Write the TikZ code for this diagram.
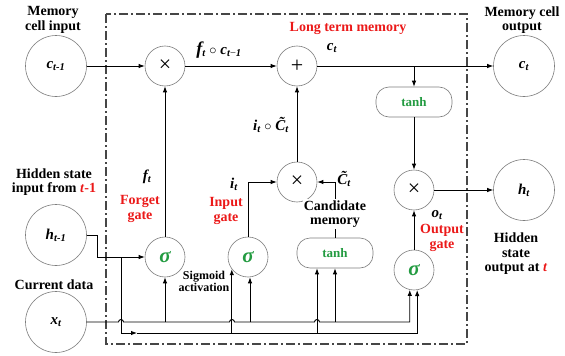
\documentclass[tikz,border=0pt]{standalone}
\usepackage{fontspec}
\setmainfont{Liberation Serif}
\usetikzlibrary{arrows.meta}
\definecolor{gred}{RGB}{235,25,25}
\definecolor{ggreen}{RGB}{35,155,65}
\definecolor{cgray}{RGB}{125,125,125}
\definecolor{bgray}{RGB}{70,70,70}
\begin{document}
\begin{tikzpicture}[x=1pt,y=-1pt,
 font=\bfseries\fontsize{14}{14.5}\selectfont,
 op/.style={circle,draw=cgray,line width=0.6pt,minimum size=40pt,inner sep=0pt,font=\mdseries\fontsize{22}{22}\selectfont},
 big/.style={circle,draw=cgray,line width=0.6pt,minimum size=61pt,inner sep=0pt,font=\bfseries\itshape\fontsize{15}{15}\selectfont},
 act/.style={draw=cgray,line width=0.6pt,rounded corners=13pt,minimum width=76pt,minimum height=30pt,inner sep=0pt,text=ggreen,font=\bfseries\fontsize{13}{13}\selectfont},
 sig/.style={circle,draw=cgray,line width=0.6pt,minimum size=40pt,inner sep=0pt,text=ggreen,font=\bfseries\itshape\fontsize{21}{21}\selectfont},
 conn/.style={line width=0.9pt,-{Latex[length=6pt,width=4.5pt]}},
 wire/.style={line width=0.9pt},
 lbl/.style={align=center,inner sep=0pt},
 gate/.style={lbl,text=gred},
 var/.style={inner sep=0pt,font=\bfseries\itshape\fontsize{15}{15}\selectfont}
]
\useasboundingbox (0,0) rectangle (565,356);
% frame
\draw[line width=1.2pt,draw=bgray,dash pattern=on 9pt off 3pt on 2pt off 3pt] (106,14) rectangle (467,344);

% nodes
\node[big] (cin) at (56,66) {c\textsubscript{t-1}};
\node[op] (mulF) at (165,66) {×};
\node[op] (add) at (297,66) {+};
\node[big] (cout) at (524,66) {c\textsubscript{t}};
\node[act] (tanhT) at (414,102) {tanh};
\node[op] (mulO) at (414,190) {×};
\node[big] (hout) at (524,190) {h\textsubscript{t}};
\node[op] (mulI) at (297,182) {×};
\node[big] (hin) at (56,235) {h\textsubscript{t-1}};
\node[big] (xin) at (56,322) {x\textsubscript{t}};
\node[sig] (sigF) at (165,257) {σ};
\node[sig] (sigI) at (248,257) {σ};
\node[act] (tanhC) at (335,253) {tanh};
\node[sig] (sigO) at (414,270) {σ};

\coordinate (hbus) at (0,333);
\coordinate (xbus) at (0,322);
\coordinate (hb) at (121,257);

% top row
\draw[conn] (cin) -- (mulF);
\draw[conn] (mulF) -- (add);
\draw[conn] (add) -- (cout);
\draw[conn] (tanhT.north |- add) -- (tanhT.north);
\draw[conn] (tanhT) -- (mulO);
\draw[conn] (mulO) -- (hout);
\draw[conn] (sigO) -- (mulO);
\draw[conn] (sigF) -- (mulF);
\draw[conn] (sigI) |- (mulI);
\draw[conn] (mulI) -- (add);
\draw[conn] (tanhC) |- (mulI);

% hidden state input
\draw[conn] (hin.east) -- ++(11,0) |- (sigF);
\draw[conn] (hb) |- (137,333);
\draw[conn] (137,333) -- (sigO.279 |- hbus) -- (sigO.279);
\draw[conn] (sigI.217 |- hbus) -- (sigI.217);
\draw[conn] ([xshift=-18pt]tanhC.south |- hbus) -- ([xshift=-18pt]tanhC.south);

% current data bus
\draw[conn] (xin.east) -- (118.5,322) arc[start angle=180,end angle=0,radius=2.5pt]
  -- (229.5,322) arc[start angle=180,end angle=0,radius=2.5pt]
  -- (314.5,322) arc[start angle=180,end angle=0,radius=2.5pt]
  -- (sigO.258 |- xbus) -- (sigO.258);
\draw[conn] (sigF |- xbus) -- (sigF);
\draw[conn] ([xshift=2pt]sigI.south |- xbus) -- ([xshift=2pt]sigI.south);
\draw[conn] (tanhC |- xbus) -- (tanhC);

% labels
\node[var] (lfc) at (219,50) {{\fontsize{18}{18}\selectfont f}\textsubscript{t} $\circ$ c\textsubscript{t{\mdseries\upshape −}1}};
\node[var] (lct) at (332,48) {c\textsubscript{t}};
\node[var] (lic) at (271,125) {i\textsubscript{t} $\circ$ \~{C}\textsubscript{t}};
\node[var] (lcc) at (344,179) {\~{C}\textsubscript{t}};
\node[var] (lft) at (147,177) {f\textsubscript{t}};
\node[var] (lit) at (234,184) {i\textsubscript{t}};
\node[var] (lot) at (437,215) {o\textsubscript{t}};

\node[gate] (tlong) at (348,28) {Long term memory};
\node[gate] (tforget) at (140,209) {Forget\\gate};
\node[gate] (tinput) at (226,211) {Input\\gate};
\node[gate] (toutput) at (442,238) {Output\\gate};
\node[lbl,fill=white,inner sep=1pt] (tcand) at (335,214) {Candidate\\memory};
\node[lbl,font=\bfseries\fontsize{12}{12}\selectfont] (tsig) at (204,281) {Sigmoid\\activation};

\node[lbl] (tmci) at (53,20) {Memory\\cell input};
\node[lbl] (tmco) at (522,20) {Memory cell\\output};
\node[lbl] (this) at (54,182) {Hidden state\\input from \textcolor{gred}{\textit{t}-1}};
\node[lbl] (tcur) at (54,285) {Current data};
\node[lbl] (thso) at (516,254) {Hidden\\state\\output at \textcolor{gred}{\textit{t}}};
\end{tikzpicture}
\end{document}
